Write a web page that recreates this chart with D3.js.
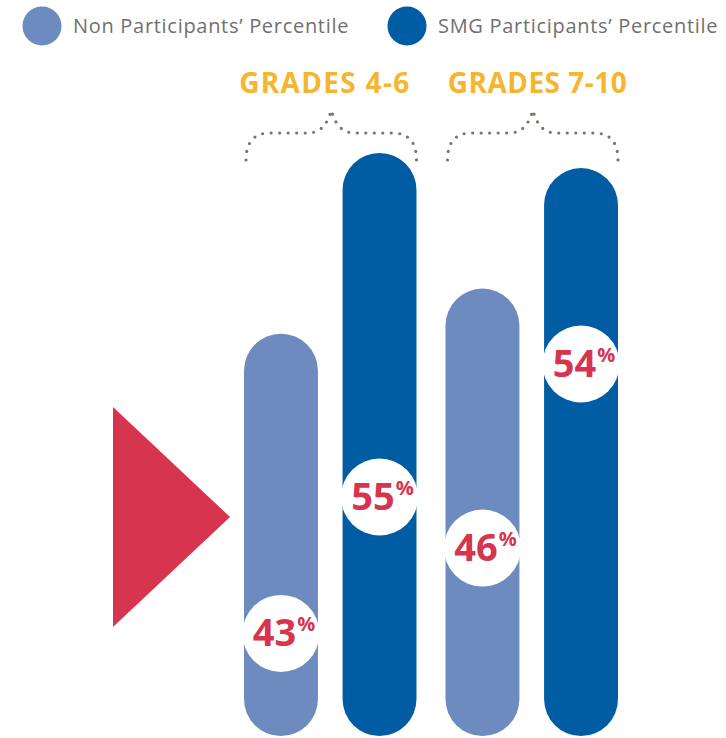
<!DOCTYPE html>
<html lang="en">
<head>
    <meta charset="UTF-8">
    <title>SMG Percentile</title>
    <script src="https://d3js.org/d3.v7.min.js"></script>
    <style>
        body { margin: 0; background: #fff; font-family: "Open Sans", Arial, sans-serif; }
        .legend text { font-size: 20px; fill: #707070; letter-spacing: 0.7px; }
        .grade { font-size: 28px; font-weight: 700; fill: #f6b52f; }
        .badge text { font-weight: 700; fill: #d6344f; }
    </style>
</head>
<body>
    <div id="chart"></div>
    <script>
        // data
        const grades = ["GRADES 4-6", "GRADES 7-10"];
        const series = ["Non Participants’ Percentile", "SMG Participants’ Percentile"];
        const nonParticipants = [43, 46];
        const smgParticipants = [55, 54];

        const colors = ["#6e8bbf", "#005ca3"];
        // where the white badge sits, as share of the bar height
        const badgeAt = [[0.255, 0.41], [0.42, 0.655]];
        // heading nudge and width per group
        const headShift = [-6, 5.5];
        const headWidth = [170, 179];

        const W = 726, H = 738;
        const svg = d3.select("#chart").append("svg")
            .attr("width", W)
            .attr("height", H);

        const x0 = d3.scaleBand().domain(grades).range([244, 618]).paddingInner(0.144);
        const x1 = d3.scaleBand().domain(series).range([0, x0.bandwidth()]).paddingInner(0.25);
        const y = d3.scaleLinear().domain([16.3, 55.2]).range([736, 150]);

        const rows = grades.map((g, i) => ({
            grade: g,
            shift: headShift[i],
            len: headWidth[i],
            values: [
                { key: series[0], value: nonParticipants[i], at: badgeAt[i][0], color: colors[0] },
                { key: series[1], value: smgParticipants[i], at: badgeAt[i][1], color: colors[1] }
            ]
        }));

        // legend
        const legend = svg.append("g").attr("class", "legend");
        const lx = [42, 407];
        series.forEach((s, i) => {
            legend.append("circle").attr("cx", lx[i]).attr("cy", 26).attr("r", 19.5).attr("fill", colors[i]);
            legend.append("text").attr("x", lx[i] + 31).attr("y", 33).text(s);
        });

        // pointer triangle
        svg.append("path")
            .attr("d", "M113,407 L230,517 L113,627 Z")
            .attr("fill", "#d6344f");

        const groups = svg.selectAll(".group")
            .data(rows)
            .enter().append("g")
            .attr("class", "group")
            .attr("transform", d => "translate(" + x0(d.grade) + ",0)");

        // headings
        groups.append("text")
            .attr("class", "grade")
            .attr("x", d => x0.bandwidth() / 2 + d.shift)
            .attr("y", 93)
            .attr("text-anchor", "middle")
            .attr("textLength", d => d.len)
            .attr("lengthAdjust", "spacing")
            .text(d => d.grade);

        // dotted brace
        groups.append("path")
            .attr("d", () => {
                const a = 2, b = x0.bandwidth(), m = b / 2 + 1;
                return "M" + a + ",160 C" + a + ",142 " + (a + 8) + ",133 " + (a + 24) + ",133" +
                    " L" + (m - 24) + ",133 C" + (m - 10) + ",133 " + (m - 4) + ",124 " + m + ",110" +
                    " C" + (m + 4) + ",124 " + (m + 10) + ",133 " + (m + 24) + ",133" +
                    " L" + (b - 24) + ",133 C" + (b - 8) + ",133 " + b + ",142 " + b + ",160";
            })
            .attr("fill", "none")
            .attr("stroke", "#7f7167")
            .attr("stroke-width", 3.2)
            .attr("stroke-linecap", "round")
            .attr("stroke-dasharray", "0,8.5");

        const bars = groups.selectAll(".bar")
            .data(d => d.values)
            .enter().append("g")
            .attr("class", "bar");

        bars.append("rect")
            .attr("x", d => x1(d.key))
            .attr("y", d => y(d.value))
            .attr("width", x1.bandwidth())
            .attr("height", d => y.range()[0] - y(d.value))
            .attr("rx", x1.bandwidth() / 2)
            .attr("fill", d => d.color);

        const badge = bars.append("g")
            .attr("class", "badge")
            .attr("transform", d => {
                const cy = y.range()[0] - d.at * (y.range()[0] - y(d.value));
                return "translate(" + (x1(d.key) + x1.bandwidth() / 2) + "," + cy + ")";
            });

        badge.append("circle").attr("r", 38.5).attr("fill", "#fff");

        const label = badge.append("text")
            .attr("x", 3)
            .attr("y", 13)
            .attr("text-anchor", "middle");
        label.append("tspan").style("font-size", "38px").text(d => d.value);
        label.append("tspan").style("font-size", "20px").attr("dx", 1).attr("dy", -15).text("%");
    </script>
</body>
</html>
